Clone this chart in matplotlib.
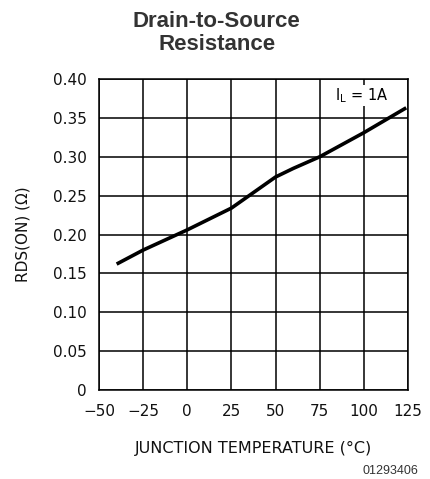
import numpy as np
import matplotlib.pyplot as plt

# Données (température jonction en °C, RDS(ON) en ohms)
temp = [-40, -25, 0, 25, 35, 50, 60, 75, 100, 124]
rds = [0.162, 0.180, 0.206, 0.234, 0.250, 0.274, 0.285, 0.300, 0.331, 0.363]

xticks = [-50, -25, 0, 25, 50, 75, 100, 125]
yticks = [0, 0.05, 0.10, 0.15, 0.20, 0.25, 0.30, 0.35, 0.40]
ytick_labels = ['0', '0.05', '0.10', '0.15', '0.20', '0.25', '0.30', '0.35', '0.40']

fig = plt.figure(figsize=(4.31, 4.79), dpi=100)
ax = fig.add_axes([0.2297, 0.1858, 0.7169, 0.6492])

ax.plot(temp, rds, color='black', linewidth=2.6, solid_capstyle='butt')

ax.set_xlim(-50, 125)
ax.set_ylim(0, 0.40)
ax.set_xticks(xticks)
ax.set_xticklabels([str(t).replace('-', '\u2212') for t in xticks])
ax.set_yticks(yticks)
ax.set_yticklabels(ytick_labels)
ax.tick_params(axis='x', length=0, labelsize=11, pad=10, labelcolor='#111111')
ax.tick_params(axis='y', length=0, labelsize=11, pad=9, labelcolor='#111111')
ax.grid(True, color='black', linewidth=1.1)
for s in ax.spines.values():
    s.set_linewidth(1.1)

ax.text(83.5, 0.379, r'I$_{\mathregular{L}}$ = 1A', fontsize=10.5, va='center', ha='left',
        bbox=dict(facecolor='white', edgecolor='none', pad=1))

ax.set_xlabel('JUNCTION TEMPERATURE (°C)', fontsize=11.5, labelpad=16, color='#111111')
ax.set_ylabel('RDS(ON) (\u03a9)', fontsize=11, labelpad=16, color='#111111')

fig.text(0.503, 0.978, 'Drain-to-Source\nResistance', ha='center', va='top',
         fontsize=16, fontweight='bold', family='Liberation Sans', linespacing=1.15,
         color='#333333')
fig.text(0.97, 0.004, '01293406', ha='right', va='bottom', fontsize=9,
         family='Liberation Sans', color='#333333')

fig.savefig('out.png', dpi=100)
